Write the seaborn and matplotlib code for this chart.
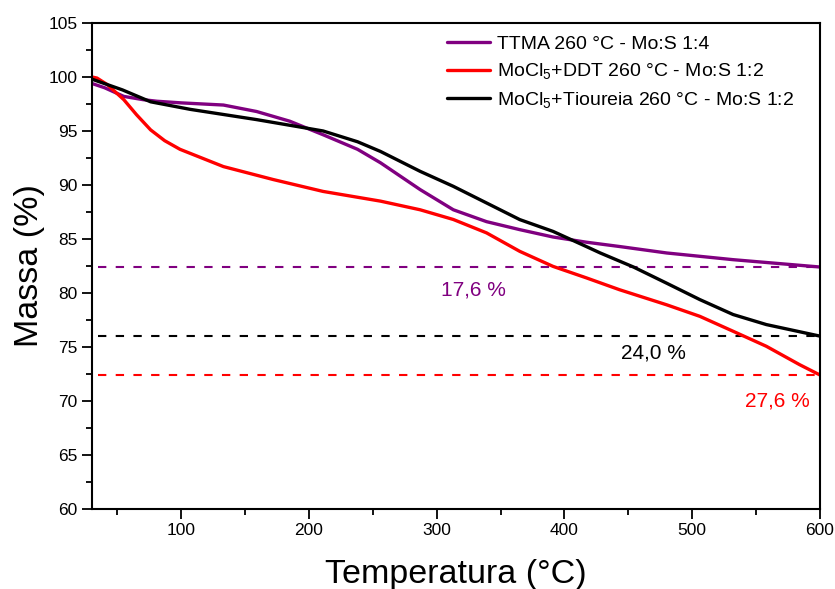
import matplotlib
matplotlib.use("Agg")
import matplotlib.pyplot as plt
import seaborn as sns
import pandas as pd

# TGA curves: temperature (°C) and remaining mass (%)
ttma_T = [30, 40, 55, 70, 81, 100, 133, 159, 185, 211, 238, 256, 287, 313,
          339, 365, 391, 417, 443, 480, 532, 560, 600]
ttma_m = [99.4, 99.0, 98.2, 97.9, 97.75, 97.6, 97.4, 96.8, 95.9, 94.65, 93.3,
          92.05, 89.57, 87.7, 86.6, 85.86, 85.18, 84.7, 84.3, 83.7, 83.08,
          82.8, 82.4]

ddt_T = [30, 34, 42, 55, 65, 76, 87, 99, 133, 172, 211, 256, 287, 313, 339,
         365, 391, 417, 443, 480, 506, 532, 558, 584, 600]
ddt_m = [100.0, 99.9, 99.3, 97.9, 96.5, 95.1, 94.1, 93.3, 91.7, 90.5, 89.4,
         88.5, 87.7, 86.8, 85.56, 83.85, 82.46, 81.4, 80.3, 78.9, 77.83,
         76.45, 75.06, 73.36, 72.4]

tio_T = [30, 54, 76, 107, 159, 211, 238, 256, 287, 313, 339, 365, 391, 417,
         428, 454, 480, 506, 532, 558, 600]
tio_m = [99.8, 98.8, 97.7, 97.0, 96.05, 95.0, 94.0, 93.1, 91.26, 89.87, 88.33,
         86.79, 85.7, 84.3, 83.7, 82.4, 80.9, 79.38, 78.0, 77.07, 76.0]

series_names = ["TTMA 260 °C - Mo:S 1:4",
                r"MoCl$_\mathregular{5}$+DDT 260 °C - Mo:S 1:2",
                r"MoCl$_\mathregular{5}$+Tioureia 260 °C - Mo:S 1:2"]
series_colors = ["#800080", "#FF0000", "#000000"]

# total mass loss (%) for each sample, drawn as residual-mass guides
mass_loss = [17.6, 27.6, 24.0]
loss_labels = ["17,6 %", "27,6 %", "24,0 %"]
label_T = [329, 567, 470]
label_m = [79.75, 69.45, 73.9]

x_ticks = [100, 200, 300, 400, 500, 600]
y_ticks = [60, 65, 70, 75, 80, 85, 90, 95, 100, 105]

frames = []
for name, T, m in zip(series_names, [ttma_T, ddt_T, tio_T],
                      [ttma_m, ddt_m, tio_m]):
    frames.append(pd.DataFrame({"Temperatura": T, "Massa": m, "Amostra": name}))
df = pd.concat(frames, ignore_index=True)

sns.set_theme(style="ticks")
plt.rcParams["font.family"] = ["Liberation Sans", "DejaVu Sans"]
plt.rcParams["mathtext.fontset"] = "custom"
plt.rcParams["mathtext.rm"] = "Liberation Sans"
plt.rcParams["mathtext.it"] = "Liberation Sans:italic"
plt.rcParams["text.color"] = "black"
plt.rcParams["axes.labelcolor"] = "black"
plt.rcParams["xtick.color"] = "black"
plt.rcParams["ytick.color"] = "black"

fig = plt.figure(figsize=(8.35, 5.89), dpi=100)
ax = fig.add_axes([0.110, 0.136, 0.872, 0.825])

sns.lineplot(data=df, x="Temperatura", y="Massa", hue="Amostra",
             palette=dict(zip(series_names, series_colors)), sort=False,
             linewidth=2.4, ax=ax, legend=True)

# residual-mass guide lines and their labels
for loss, lab, c, tx, ty in zip(mass_loss, loss_labels, series_colors,
                                label_T, label_m):
    ax.hlines(100 - loss, 35, 600, colors=c, linestyles=(0, (4, 4.5)),
              linewidth=1.5, zorder=1)
    ax.text(tx, ty, lab, color=c, fontsize=15, ha="center", va="baseline")

ax.set_xlim(30, 600)
ax.set_ylim(60, 105)
ax.set_xticks(x_ticks)
ax.set_yticks(y_ticks)
ax.set_xticks([50, 150, 250, 350, 450, 550], minor=True)
ax.set_yticks([62.5 + 5 * i for i in range(9)], minor=True)
ax.tick_params(axis="both", which="major", direction="out", length=7,
               width=1.3, labelsize=12.5, color="black", labelcolor="black",
               top=False, right=False)
ax.tick_params(axis="both", which="minor", direction="out", length=4,
               width=1.3, top=False, right=False, color="black")
for s in ax.spines.values():
    s.set_visible(True)
    s.set_linewidth(1.5)
    s.set_color("black")

ax.set_xlabel("Temperatura (°C)", fontsize=24.5, labelpad=14.5, color="black")
ax.set_ylabel("Massa (%)", fontsize=24.5, labelpad=2, color="black")

handles, labels = ax.get_legend_handles_labels()
leg = ax.legend(handles, labels, loc="upper left", bbox_to_anchor=(0.488, 0.975),
                frameon=False, fontsize=14, handlelength=2.2,
                handletextpad=0.35, borderaxespad=0, borderpad=0,
                labelspacing=0.45)
for t in leg.get_texts():
    t.set_color("black")

fig.savefig("out.png", dpi=100)
